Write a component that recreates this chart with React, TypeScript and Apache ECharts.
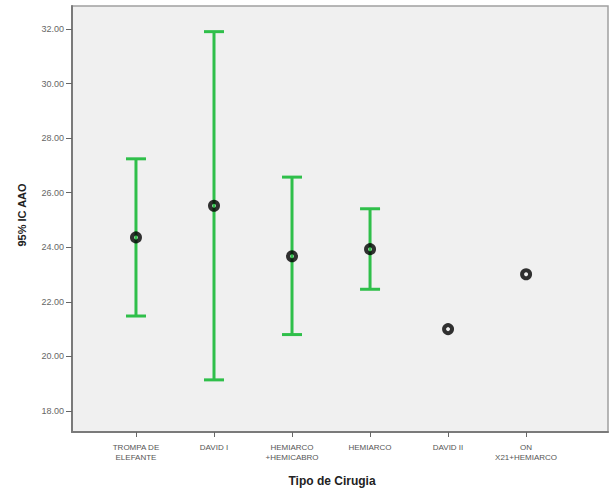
import React, { useEffect, useRef } from "react";
import * as echarts from "echarts";

const categories = [
  "TROMPA DE\nELEFANTE",
  "DAVID I",
  "HEMIARCO\n+HEMICABRO",
  "HEMIARCO",
  "DAVID II",
  "ON\nX21+HEMIARCO",
];
const means = [24.36, 25.52, 23.67, 23.93, 21.0, 23.01];
const lowerCI: (number | null)[] = [21.48, 19.14, 20.8, 22.46, null, null];
const upperCI: (number | null)[] = [27.24, 31.9, 26.57, 25.41, null, null];
const yTicks = [18, 20, 22, 24, 26, 28, 30, 32];
const xPositions = [1, 2, 3, 4, 5, 6];

const FONT = "Arial, 'Liberation Sans', sans-serif";
const GREEN = "#2fbf4a";

export default function App() {
  const ref = useRef<HTMLDivElement>(null);
  useEffect(() => {
    if (!ref.current) return;
    const chart = echarts.init(ref.current, undefined, { renderer: "svg" });
    const errData = xPositions
      .map((x, i) => [x, lowerCI[i], upperCI[i]])
      .filter((d) => d[1] != null && d[2] != null);
    chart.setOption({
      animation: false,
      backgroundColor: "#ffffff",
      grid: {
        left: 72,
        right: 1,
        top: 6,
        bottom: 61,
        show: true,
        backgroundColor: "#f0f0f0",
        borderColor: "#a0a0a0",
        borderWidth: 1.5,
      },
      xAxis: {
        type: "value",
        min: 0.18,
        max: 7.05,
        splitLine: { show: false },
        axisLine: { show: true, onZero: false, lineStyle: { color: "#7a7a7a", width: 2 } },
        axisTick: {
          show: true,
          customValues: xPositions,
          length: 5,
          lineStyle: { color: "#666", width: 1 },
        },
        axisLabel: {
          customValues: xPositions,
          formatter: (v: number) => {
            const i = Math.round(v) - 1;
            return categories[i] ?? "";
          },
          color: "#555",
          fontSize: 8,
          fontFamily: FONT,
          lineHeight: 10,
          margin: 10,
          verticalAlign: "top",
        },
      },
      yAxis: {
        type: "value",
        min: 17.23,
        max: 32.84,
        splitLine: { show: false },
        axisLine: { show: true, onZero: false, lineStyle: { color: "#7a7a7a", width: 2 } },
        axisTick: {
          show: true,
          customValues: yTicks,
          length: 6,
          lineStyle: { color: "#666", width: 1 },
        },
        axisLabel: {
          customValues: yTicks,
          formatter: (v: number) => v.toFixed(2),
          color: "#666",
          fontSize: 9,
          fontFamily: FONT,
          margin: 8,
        },
      },
      graphic: [
        {
          type: "text",
          x: 22,
          y: 215,
          rotation: Math.PI / 2,
          style: {
            text: "95% IC AAO",
            font: `bold 11px ${FONT}`,
            fill: "#222",
            align: "center",
            verticalAlign: "middle",
          },
        },
        {
          type: "text",
          x: 332,
          y: 481,
          style: {
            text: "Tipo de Cirugia",
            font: `bold 12px ${FONT}`,
            fill: "#222",
            align: "center",
            verticalAlign: "middle",
          },
        },
      ],
      series: [
        {
          type: "custom",
          data: errData,
          renderItem: (params: any, api: any) => {
            const x = api.value(0);
            const lo = api.coord([x, api.value(1)]);
            const hi = api.coord([x, api.value(2)]);
            const hw = 10;
            const style = { stroke: GREEN, lineWidth: 3 };
            return {
              type: "group",
              children: [
                { type: "line", shape: { x1: lo[0], y1: lo[1], x2: hi[0], y2: hi[1] }, style },
                { type: "line", shape: { x1: hi[0] - hw, y1: hi[1], x2: hi[0] + hw, y2: hi[1] }, style },
                { type: "line", shape: { x1: lo[0] - hw, y1: lo[1], x2: lo[0] + hw, y2: lo[1] }, style },
              ],
            };
          },
          z: 2,
        },
        {
          type: "scatter",
          data: xPositions.map((x, i) => [x, means[i]]),
          symbol: "circle",
          symbolSize: 8,
          itemStyle: { color: "rgba(0,0,0,0)", borderColor: "#000", borderWidth: 4 },
          z: 3,
        },
      ],
    });
    return () => chart.dispose();
  }, []);
  return (
    <div
      ref={ref}
      style={{ position: "fixed", left: 0, top: 0, width: 609, height: 493 }}
    />
  );
}
